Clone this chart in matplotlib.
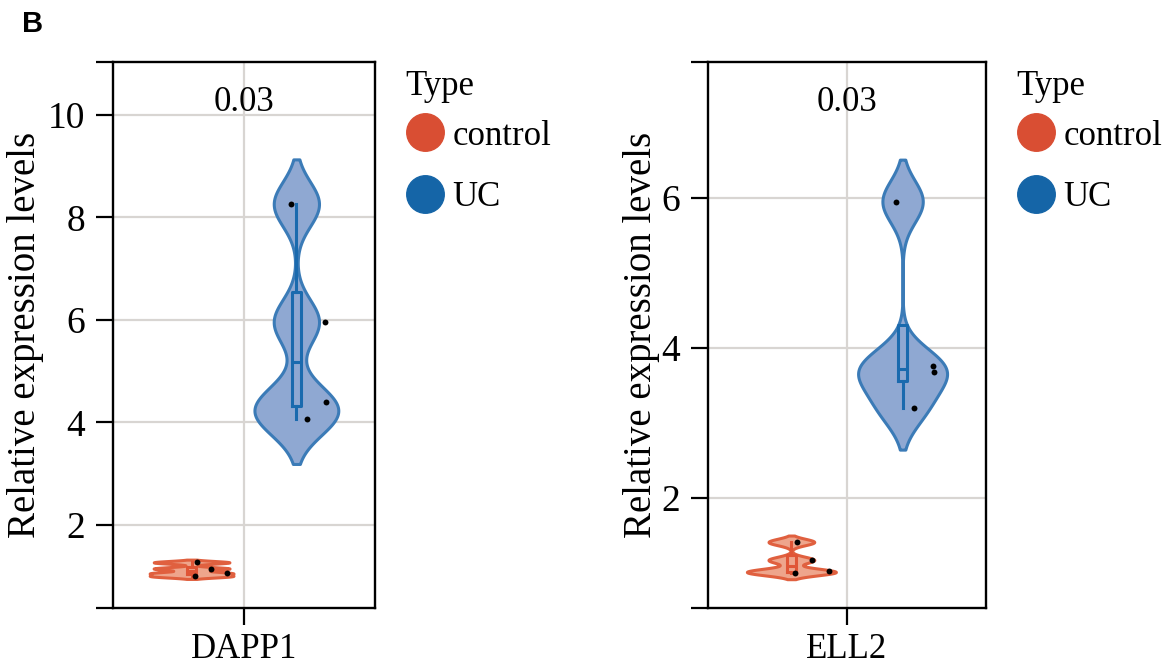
import numpy as np
import matplotlib.pyplot as plt
from matplotlib.lines import Line2D

# Relative expression values (4 samples per group)
genes = ["DAPP1", "ELL2"]
groups = ["control", "UC"]
pvalues = ["0.03", "0.03"]

dapp1_control = [1.27, 1.15, 1.00, 1.06]
dapp1_uc = [8.26, 5.96, 4.40, 4.06]
ell2_control = [1.41, 1.17, 1.00, 1.02]
ell2_uc = [5.95, 3.75, 3.68, 3.20]

dapp1_ticks = [2, 4, 6, 8, 10]
ell2_ticks = [2, 4, 6]

# horizontal jitter of the sample dots (same for both panels)
jitter_control = [0.020, 0.074, 0.012, 0.137]
jitter_uc = [-0.022, 0.108, 0.113, 0.042]

plt.rcParams.update({
    "font.family": "Liberation Serif",
    "font.size": 25,
})

legend_colors = {"control": "#d94e33", "UC": "#1565a7"}
violin_face = {"control": "#eea58c", "UC": "#8fa8d2"}
violin_edge = {"control": "#e0603f", "UC": "#3b7bb7"}
box_color = {"control": "#e05536", "UC": "#1a6aae"}


def draw_violin(ax, values, pos, group, bw_adjust=0.3, cut=2, half=0.16):
    v = np.asarray(values, dtype=float)
    bw = v.std(ddof=1) * len(v) ** (-1 / 5) * bw_adjust
    yy = np.linspace(v.min() - cut * bw, v.max() + cut * bw, 500)
    dens = np.exp(-0.5 * ((yy[:, None] - v[None, :]) / bw) ** 2).sum(axis=1)
    w = half * dens / dens.max()
    ax.fill_betweenx(yy, pos - w, pos + w, facecolor=violin_face[group],
                     edgecolor=violin_edge[group], lw=2.2, zorder=2)
    c = box_color[group]
    ax.boxplot(v, positions=[pos], widths=0.034, showfliers=False,
               showcaps=False, manage_ticks=False,
               boxprops=dict(color=c, lw=2.2),
               whiskerprops=dict(color=c, lw=2.2),
               medianprops=dict(color=c, lw=2.2), zorder=3)


def draw_points(ax, values, pos, jitter):
    xs = [pos + j for j in jitter]
    ax.scatter(xs, values, s=18, color="black", zorder=4, linewidths=0)


fig = plt.figure(figsize=(11.71, 6.66), dpi=100)
ax1 = fig.add_axes([0.0965, 0.0871, 0.2237, 0.8198])
ax2 = fig.add_axes([0.6046, 0.0871, 0.2374, 0.8198])

panels = [
    (ax1, genes[0], dapp1_control, dapp1_uc, dapp1_ticks, (0.38, 11.03), pvalues[0], 3),
    (ax2, genes[1], ell2_control, ell2_uc, ell2_ticks, (0.53, 7.81), pvalues[1], 1),
]

for ax, gene, ctrl, uc, ticks, ylim, p, lpad in panels:
    draw_violin(ax, ctrl, -0.2, "control")
    draw_violin(ax, uc, 0.2, "UC")
    draw_points(ax, ctrl, -0.2, jitter_control)
    draw_points(ax, uc, 0.2, jitter_uc)

    ax.set_xlim(-0.5, 0.5)
    ax.set_ylim(*ylim)
    ax.set_xticks([0])
    ax.set_xticklabels([gene])
    ax.set_yticks(ticks)
    ax.set_yticks(list(ylim), minor=True)
    ax.tick_params(which="both", length=12, width=1.6)
    ax.tick_params(axis="x", labelsize=25, pad=6)
    ax.tick_params(axis="y", labelsize=27, pad=8)
    ax.tick_params(axis="y", which="minor", labelleft=False)
    ax.grid(True, color="#d8d5d2", lw=1.6, zorder=0)
    ax.set_axisbelow(True)
    for s in ax.spines.values():
        s.set_linewidth(1.7)
    ax.set_ylabel("Relative expression levels", fontsize=28, labelpad=lpad)
    ax.text(0.5, 0.925, p, transform=ax.transAxes, ha="center", va="center",
            fontsize=25)

    # legend: title as its own text, entries below it
    xoff = 30 / ax.bbox.width
    ax.text(1 + xoff, 0.956, "Type", transform=ax.transAxes, ha="left",
            va="center", fontsize=25)
    handles = [Line2D([], [], ls="", marker="o", ms=27, color=legend_colors[g])
               for g in groups]
    ax.legend(handles, groups, loc="upper left",
              bbox_to_anchor=(1.0 + 17 / ax.bbox.width, 0.92), frameon=False,
              fontsize=25, handlelength=1.1, handletextpad=0.25,
              labelspacing=0.82, borderaxespad=0)

fig.text(22 / 1171, 1 - 24 / 666, "B", fontsize=21, fontweight="bold",
         family="Liberation Sans", va="center", ha="left")

fig.savefig("out.png", dpi=100)
